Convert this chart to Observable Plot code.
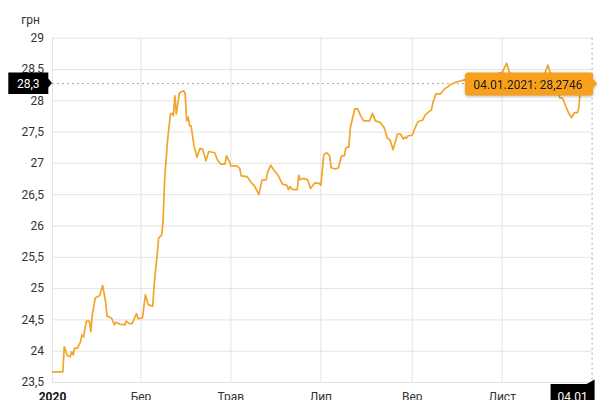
<!DOCTYPE html>
<html>
<head>
<meta charset="utf-8">
<script src="https://cdn.jsdelivr.net/npm/d3@7"></script>
<script src="https://cdn.jsdelivr.net/npm/@observablehq/plot@0.6"></script>
<style>
  html, body { margin: 0; padding: 0; background: #fff; }
  svg { display: block; }
</style>
</head>
<body>
<div id="chart"></div>
<script>
// ---- data ----
const dates = [
  "2020-01-01","2020-01-08","2020-01-09","2020-01-11","2020-01-13","2020-01-14","2020-01-15","2020-01-16",
  "2020-01-18","2020-01-20","2020-01-21","2020-01-22","2020-01-23","2020-01-24","2020-01-26","2020-01-27",
  "2020-01-28","2020-01-30","2020-02-02","2020-02-04","2020-02-06","2020-02-07","2020-02-10","2020-02-12",
  "2020-02-13","2020-02-16","2020-02-19","2020-02-20","2020-02-22","2020-02-24","2020-02-27","2020-02-28",
  "2020-03-02","2020-03-04","2020-03-06","2020-03-09","2020-03-10","2020-03-12","2020-03-13","2020-03-15",
  "2020-03-16","2020-03-17","2020-03-19","2020-03-21","2020-03-22","2020-03-23","2020-03-24","2020-03-25",
  "2020-03-27","2020-03-28","2020-03-30","2020-03-31","2020-04-01","2020-04-02","2020-04-03","2020-04-04",
  "2020-04-06","2020-04-08","2020-04-10","2020-04-12","2020-04-14","2020-04-16","2020-04-20","2020-04-22",
  "2020-04-24","2020-04-27","2020-04-28","2020-04-30","2020-05-01","2020-05-05","2020-05-07","2020-05-08",
  "2020-05-12","2020-05-14","2020-05-15","2020-05-17","2020-05-20","2020-05-22","2020-05-25","2020-05-26",
  "2020-05-28","2020-05-30","2020-06-02","2020-06-05","2020-06-08","2020-06-09","2020-06-10","2020-06-12",
  "2020-06-15","2020-06-16","2020-06-17","2020-06-19","2020-06-22","2020-06-24","2020-06-27","2020-06-30",
  "2020-07-01","2020-07-03","2020-07-05","2020-07-07","2020-07-08","2020-07-11","2020-07-13","2020-07-15",
  "2020-07-17","2020-07-18","2020-07-20","2020-07-21","2020-07-24","2020-07-26","2020-07-28","2020-07-30",
  "2020-08-03","2020-08-05","2020-08-07","2020-08-10","2020-08-13","2020-08-15","2020-08-17","2020-08-19",
  "2020-08-22","2020-08-24","2020-08-26","2020-08-27","2020-08-28","2020-08-29","2020-09-01","2020-09-03",
  "2020-09-05","2020-09-08","2020-09-10","2020-09-13","2020-09-14","2020-09-15","2020-09-17","2020-09-20",
  "2020-09-22","2020-09-23","2020-09-25","2020-09-27","2020-09-29","2020-10-01","2020-10-04","2020-10-06",
  "2020-10-12","2020-10-19","2020-10-26","2020-11-01","2020-11-04","2020-11-06","2020-11-12","2020-11-19",
  "2020-11-26","2020-11-30","2020-12-02","2020-12-04","2020-12-08","2020-12-10","2020-12-12","2020-12-14",
  "2020-12-16","2020-12-18","2020-12-20","2020-12-22","2020-12-23","2020-12-24","2020-12-28","2021-01-01"
];
const rates = [
  23.67,23.67,24.07,23.93,23.91,23.99,23.94,24.05,
  24.05,24.15,24.26,24.23,24.36,24.48,24.48,24.31,
  24.58,24.85,24.89,25.05,24.79,24.56,24.53,24.42,
  24.46,24.43,24.42,24.48,24.44,24.44,24.60,24.52,
  24.53,24.90,24.74,24.72,25.08,25.54,25.81,25.85,
  26.07,26.72,27.36,27.79,27.80,27.76,28.08,27.79,
  28.12,28.14,28.16,28.11,27.68,27.74,27.60,27.60,
  27.28,27.10,27.24,27.22,27.04,27.19,27.17,27.05,
  26.99,26.99,27.12,27.03,26.96,26.96,26.92,26.80,
  26.79,26.72,26.69,26.64,26.50,26.73,26.74,26.87,
  26.97,26.90,26.81,26.67,26.65,26.58,26.63,26.58,
  26.58,26.81,26.74,26.76,26.74,26.60,26.69,26.68,
  26.65,27.14,27.17,27.12,26.93,26.91,26.93,27.12,
  27.12,27.25,27.26,27.57,27.87,27.87,27.76,27.68,
  27.68,27.80,27.68,27.66,27.57,27.41,27.37,27.22,
  27.47,27.47,27.39,27.42,27.40,27.44,27.45,27.57,
  27.67,27.69,27.78,27.84,27.85,27.97,28.11,28.11,
  28.16,28.19,28.22,28.26,28.28,28.30,28.32,28.33,
  28.36,28.40,28.42,28.45,28.60,28.45,28.35,28.30,
  28.36,28.44,28.57,28.42,28.20,28.05,28.04,27.92,
  27.81,27.73,27.81,27.81,27.89,28.16,28.30,28.2746
];
const yTicks = [23.5, 24, 24.5, 25, 25.5, 26, 26.5, 27, 27.5, 28, 28.5, 29];
const monthTickDates = ["2020-03-01", "2020-05-01", "2020-07-01", "2020-09-01", "2020-11-01"];
const monthTickLabels = ["Бер", "Трав", "Лип", "Вер", "Лист"];
const yearTickDate = "2020-01-01";
const yearTickLabel = "2020";
const xDomain = ["2020-01-01", "2021-01-01"];
const unitLabel = "грн";
const crossValueLabel = "28,3";
const crossDateLabel = "04.01";
const tooltipText = "04.01.2021: 28,2746";

// ---- styles ----
const lineColor = "#f3a42a";
const tipColor = "#f8a01c";
const gridColor = "#e4e4e4";
const crossColor = "#a8a8a8";

const data = dates.map((d, i) => ({date: new Date(d), rate: rates[i]}));
const last = data[data.length - 1];
const monthTicks = monthTickDates.map(d => new Date(d));
const labelByTime = new Map(monthTicks.map((d, i) => [+d, monthTickLabels[i]]));
const allGridTicks = [new Date(yearTickDate), ...monthTicks];
const fmt = v => String(v).replace(".", ",");

const chart = Plot.plot({
  width: 600,
  height: 400,
  marginLeft: 52,
  marginRight: 8.4,
  marginTop: 37.7,
  marginBottom: 18,
  style: {fontFamily: "Roboto, sans-serif", fontSize: "12px", color: "#333", background: "#fff"},
  x: {type: "utc", domain: xDomain.map(d => new Date(d)), label: null},
  y: {domain: [23.5, 29], label: null},
  marks: [
    Plot.gridY({ticks: yTicks, stroke: gridColor, strokeOpacity: 1}),
    Plot.gridX({ticks: allGridTicks, stroke: gridColor, strokeOpacity: 1}),
    Plot.axisY({ticks: yTicks, tickSize: 0, tickPadding: 8.5, tickFormat: fmt, label: null, fill: "#333"}),
    Plot.axisX({ticks: monthTicks, tickSize: 0, tickPadding: 10, tickFormat: d => labelByTime.get(+d), label: null, fill: "#333"}),
    Plot.axisX({ticks: [new Date(yearTickDate)], tickSize: 0, tickPadding: 10, tickFormat: () => yearTickLabel, label: null, fill: "#111", fontWeight: "bold"}),
    Plot.text([unitLabel], {frameAnchor: "top-left", dx: -22, dy: -14.4, textAnchor: "middle", lineAnchor: "bottom", fill: "#333"}),
    Plot.ruleY([last.rate], {stroke: crossColor, strokeDasharray: "2,3", strokeWidth: 1}),
    Plot.ruleX([last.date], {stroke: crossColor, strokeDasharray: "2,3", strokeWidth: 1}),
    Plot.line(data, {x: "date", y: "rate", stroke: lineColor, strokeWidth: 1.7, strokeLinejoin: "round"})
  ]
});
document.getElementById("chart").appendChild(chart);

// ---- crosshair labels and tooltip positioned via Plot's scales ----
const sx = chart.scale("x"), sy = chart.scale("y");
const X = sx.apply(last.date);
const Y = sy.apply(last.rate);
const L = sx.range[0];
const B = sy.range[0];
const svg = d3.select(chart);

// left value label (black, pointer to the right)
{
  const x0 = L - 43.7, x1 = L - 3.7, y0 = Y - 10.5, y1 = Y + 11;
  svg.append("path")
    .attr("d", `M${x0},${y0}H${x1}V${Y - 4.5}L${L},${Y}L${x1},${Y + 4.5}V${y1}H${x0}Z`)
    .attr("fill", "#000");
  svg.append("text")
    .attr("x", (x0 + x1) / 2).attr("y", Y + 4.6)
    .attr("text-anchor", "middle").attr("fill", "#fff")
    .attr("font-family", "Roboto, sans-serif").attr("font-size", 12)
    .text(crossValueLabel);
}

// bottom date label (black, notch pointing up)
{
  const x0 = X - 41, x1 = X + 3, y0 = B + 2, y1 = B + 30;
  svg.append("path")
    .attr("d", `M${x0},${y0}H${X - 5}L${x1},${B - 2.5}V${y1}H${x0}Z`)
    .attr("fill", "#000");
  svg.append("text")
    .attr("x", (x0 + x1) / 2).attr("y", B + 18.5)
    .attr("text-anchor", "middle").attr("fill", "#fff")
    .attr("font-family", "Roboto, sans-serif").attr("font-size", 12)
    .text(crossDateLabel);
}

// orange tooltip
{
  const x0 = X - 126.5, x1 = X + 1.5, y0 = Y - 10.5, y1 = Y + 12.5, r = 3;
  const tip = svg.append("g").style("filter", "drop-shadow(0 1px 1.5px rgba(0,0,0,0.3))");
  tip.append("path")
    .attr("d", `M${x0 + r},${y0}H${x1 - r}Q${x1},${y0} ${x1},${y0 + r}V${Y - 4}L${X + 5.5},${Y + 0.5}L${x1},${Y + 5}V${y1 - r}Q${x1},${y1} ${x1 - r},${y1}H${x0 + r}Q${x0},${y1} ${x0},${y1 - r}V${y0 + r}Q${x0},${y0} ${x0 + r},${y0}Z`)
    .attr("fill", tipColor);
  tip.append("text")
    .attr("x", (x0 + x1) / 2 - 1).attr("y", Y + 5.6)
    .attr("text-anchor", "middle").attr("fill", "#1a1a1a")
    .attr("font-family", "Roboto, sans-serif").attr("font-size", 12)
    .text(tooltipText);
}
</script>
</body>
</html>
